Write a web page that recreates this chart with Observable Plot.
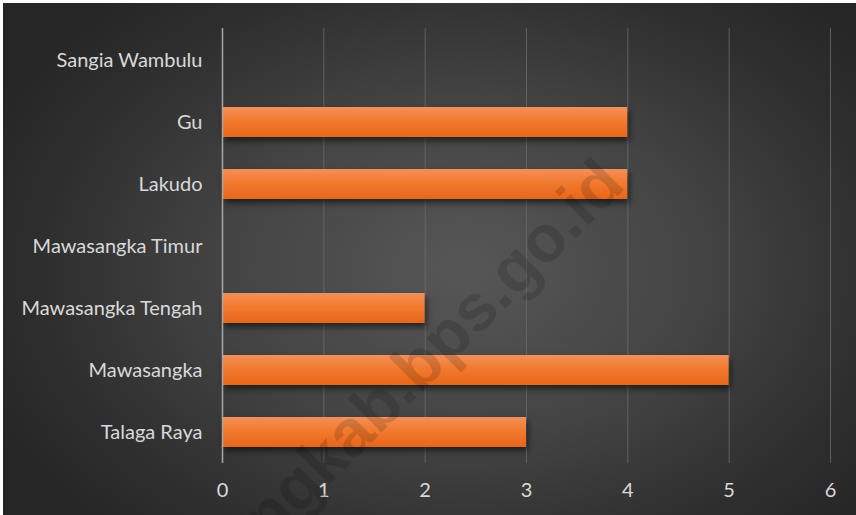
<!DOCTYPE html>
<html>
<head>
<meta charset="utf-8">
<script src="https://cdn.jsdelivr.net/npm/d3@7"></script>
<script src="https://cdn.jsdelivr.net/npm/@observablehq/plot@0.6"></script>
<style>
  html, body { margin: 0; padding: 0; background: #ffffff; }
  #wrap {
    position: absolute; left: 3px; top: 3px; width: 853px; height: 512px;
    background: radial-gradient(ellipse 62% 72% at 54% 52%, #575757 0%, #444444 45%, #2e2e2e 80%, #262626 100%);
    overflow: hidden;
  }
  #wrap svg { display: block; }
</style>
</head>
<body>
<div id="wrap"></div>
<script>
const categories = ["Sangia Wambulu", "Gu", "Lakudo", "Mawasangka Timur", "Mawasangka Tengah", "Mawasangka", "Talaga Raya"];
const values = [0, 4, 4, 0, 2, 5, 3];
const xTicks = [0, 1, 2, 3, 4, 5, 6];
const watermark = "butengkab.bps.go.id";

const data = categories.map((c, i) => ({category: c, value: values[i]}));

const chart = Plot.plot({
  width: 853,
  height: 512,
  marginLeft: 219,
  marginRight: 26,
  marginTop: 25,
  marginBottom: 52,
  style: {background: "transparent", fontFamily: "Lato, 'Open Sans', sans-serif", fontSize: "20px", color: "#d9d9d9"},
  x: {domain: [0, 6], ticks: xTicks, tickFormat: "d", tickSize: 0, tickPadding: 19, label: null, grid: false},
  y: {domain: categories, paddingInner: 0.52, paddingOuter: 0.26, tickSize: 0, tickPadding: 20, label: null},
  marks: [
    Plot.ruleX(xTicks.filter(d => d > 0), {stroke: "#6a6a6a", strokeWidth: 1, strokeOpacity: 0.8}),
    Plot.barX(data.filter(d => d.value > 0), {x: "value", y: "category", fill: "url(#barGrad)", className: "bars"}),
    Plot.ruleX([0], {stroke: "#a8a8a8", strokeWidth: 1.5})
  ]
});

const svg = d3.select(chart);
const defs = svg.insert("defs", ":first-child");
const g = defs.append("linearGradient").attr("id", "barGrad").attr("x1", 0).attr("y1", 0).attr("x2", 0).attr("y2", 1);
g.append("stop").attr("offset", "0%").attr("stop-color", "#f39058");
g.append("stop").attr("offset", "45%").attr("stop-color", "#f27a2e");
g.append("stop").attr("offset", "100%").attr("stop-color", "#e7661a");
svg.selectAll("g.bars").style("filter", "drop-shadow(2px 4px 3px rgba(0,0,0,0.55))");

svg.append("text")
  .attr("transform", "translate(624,184) rotate(-45)")
  .attr("text-anchor", "end")
  .attr("font-family", "'Liberation Sans', Arial, sans-serif")
  .attr("font-weight", "bold")
  .attr("font-size", 66)
  .attr("fill", "rgba(0,0,0,0.14)")
  .text(watermark);

document.getElementById("wrap").appendChild(chart);
</script>
</body>
</html>
